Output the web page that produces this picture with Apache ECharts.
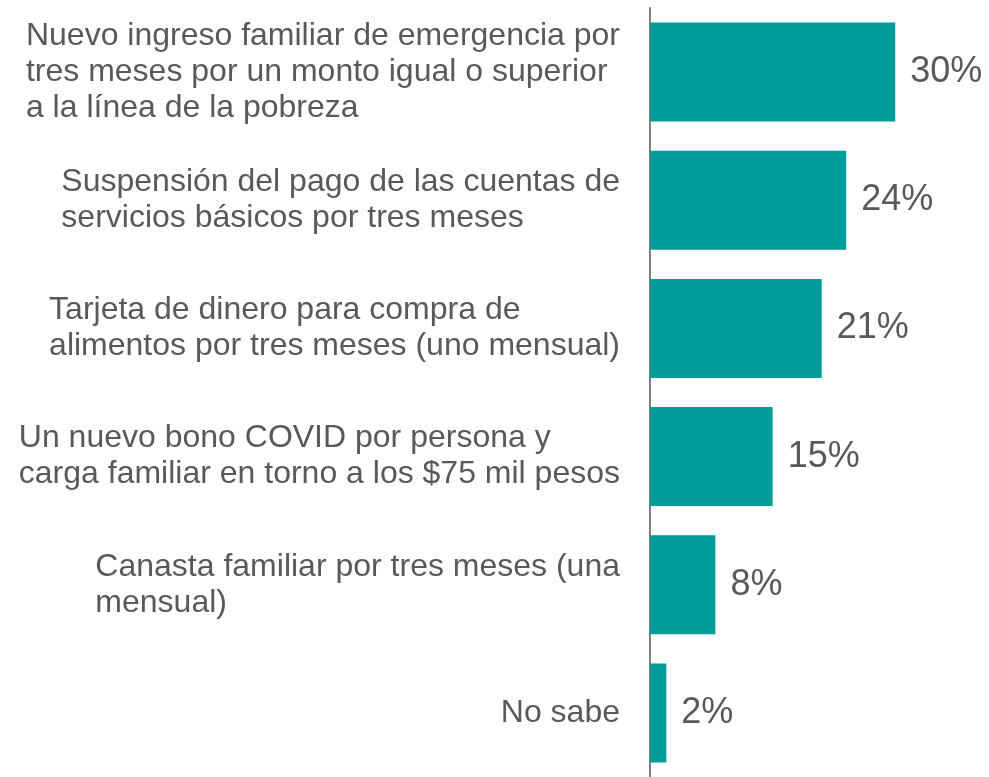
<!DOCTYPE html>
<html>
<head>
<meta charset="utf-8">
<script src="https://cdn.jsdelivr.net/npm/echarts@6/dist/echarts.min.js"></script>
<style>
  html, body { margin: 0; padding: 0; background: #fff; }
  #chart { width: 989px; height: 777px; }
</style>
</head>
<body>
<div id="chart"></div>
<script>
var categories = [
  'Nuevo ingreso familiar de emergencia por\ntres meses por un monto igual o superior\na la línea de la pobreza',
  'Suspensión del pago de las cuentas de\nservicios básicos por tres meses',
  'Tarjeta de dinero para compra de\nalimentos por tres meses (uno mensual)',
  'Un nuevo bono COVID por persona y\ncarga familiar en torno a los $75 mil pesos',
  'Canasta familiar por tres meses (una\nmensual)',
  'No sabe'
];
var values = [30, 24, 21, 15, 8, 2];

var myChart = echarts.init(document.getElementById('chart'));

var font = 'Liberation Sans, Arial, sans-serif';

var option = {
  animation: false,
  grid: {
    left: 650,
    right: 12,
    top: 8,
    bottom: 0
  },
  xAxis: {
    type: 'value',
    min: 0,
    max: 40,
    show: false
  },
  yAxis: {
    type: 'category',
    inverse: true,
    data: categories,
    axisLine: {
      show: true,
      lineStyle: { color: '#808080', width: 2 }
    },
    axisTick: { show: false },
    axisLabel: {
      margin: 30,
      align: 'right',
      fontFamily: font,
      fontSize: 32,
      lineHeight: 36,
      color: '#595959',
      formatter: function (v) {
        return '{a|' + v.split('\n').join('}\n{a|') + '}';
      },
      rich: {
        a: {
          align: 'left',
          fontFamily: font,
          fontSize: 32,
          lineHeight: 36,
          color: '#595959'
        }
      }
    }
  },
  series: [
    {
      type: 'bar',
      data: values,
      barWidth: 99,
      itemStyle: { color: '#009C98' },
      label: {
        show: true,
        position: 'right',
        distance: 15,
        formatter: '{c}%',
        fontFamily: font,
        fontSize: 36,
        color: '#595959'
      }
    }
  ]
};

myChart.setOption(option);
</script>
</body>
</html>
